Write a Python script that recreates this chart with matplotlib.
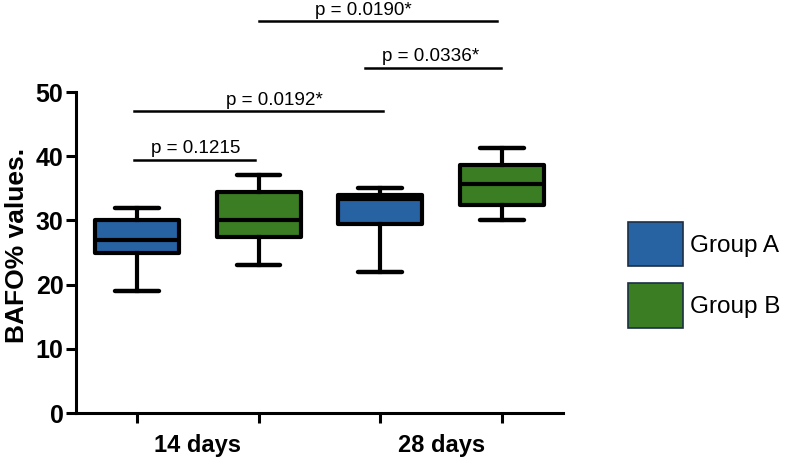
import matplotlib
matplotlib.use("Agg")
import matplotlib.pyplot as plt
from matplotlib.patches import Patch

plt.rcParams["font.family"] = ["Liberation Sans", "DejaVu Sans"]

# box statistics (whisker low, q1, median, q3, whisker high)
groups = ["Group A", "Group B", "Group A", "Group B"]
whislo = [19, 23, 22, 30]
q1 = [25, 27.4, 29.4, 32.4]
med = [27, 30, 33.3, 35.7]
q3 = [30, 34.4, 33.9, 38.6]
whishi = [32, 37, 35, 41.3]
timepoints = ["14 days", "28 days"]

# pairwise comparisons: (box i, box j, label)
comparisons = [
    (1, 2, "p = 0.1215"),
    (1, 3, "p = 0.0192*"),
    (3, 4, "p = 0.0336*"),
    (2, 4, "p = 0.0190*"),
]

colors = {"Group A": "#2762a3", "Group B": "#3a7d23"}

fig = plt.figure(figsize=(7.88, 4.61), dpi=100)
ax = fig.add_axes([0.0964, 0.1041, 0.618, 0.6963])

stats = []
for i in range(len(groups)):
    stats.append(dict(whislo=whislo[i], q1=q1[i], med=med[i], q3=q3[i],
                      whishi=whishi[i], fliers=[]))

positions = [1, 2, 3, 4]
bp = ax.bxp(stats, positions=positions, widths=0.69, capwidths=0.36,
            patch_artist=True, showfliers=False,
            boxprops=dict(linewidth=3, edgecolor="black", joinstyle="round"),
            medianprops=dict(color="black", linewidth=3),
            whiskerprops=dict(color="black", linewidth=3),
            capprops=dict(color="black", linewidth=3.2, solid_capstyle="round"))
for patch, g in zip(bp["boxes"], groups):
    patch.set_facecolor(colors[g])

# significance bars above the boxes
bar_y = [39.4, 47.0, 53.8, 61.0]
bar_x = [(0.98, 1.97), (0.98, 3.02), (2.87, 3.99), (2.0, 3.96)]
text_x = [1.48, 2.13, 3.41, 2.86]
for (i, j, lab), y, (x0, x1), tx in zip(comparisons, bar_y, bar_x, text_x):
    ax.plot([x0, x1], [y, y], color="black", linewidth=1.8, clip_on=False)
    ax.text(tx, y + 0.4, lab, ha="center", va="bottom", fontsize=13.6)

ax.set_xlim(0.5, 4.5)
ax.set_ylim(0, 50)
ax.set_yticks([0, 10, 20, 30, 40, 50])
ax.set_xticks(positions)
ax.set_xticklabels([])
ax.set_xticks([1.5, 3.5], minor=True)
ax.set_xticklabels(timepoints, minor=True, fontsize=17, fontweight="bold")
ax.tick_params(axis="x", which="minor", length=0, pad=15)
ax.tick_params(axis="both", which="major", length=7, width=2.2)
ax.tick_params(axis="y", labelsize=18, pad=2)
for t in ax.get_yticklabels():
    t.set_fontweight("bold")

for s in ["top", "right"]:
    ax.spines[s].set_visible(False)
for s in ["left", "bottom"]:
    ax.spines[s].set_linewidth(2.2)

ax.set_ylabel("BAFO% values.", fontsize=19, fontweight="bold")
ax.yaxis.set_label_coords(-0.097, 0.523)

handles = [Patch(facecolor=colors[g], edgecolor="#1b2f45", linewidth=1.2, label=g)
           for g in ["Group A", "Group B"]]
ax.legend(handles=handles, loc="center left", bbox_to_anchor=(1.114, 0.43),
          frameon=False, fontsize=17.5, handlelength=2.25, handleheight=2.45,
          handletextpad=0.3, labelspacing=0.7, borderaxespad=0)

fig.savefig("out.png", dpi=100)
